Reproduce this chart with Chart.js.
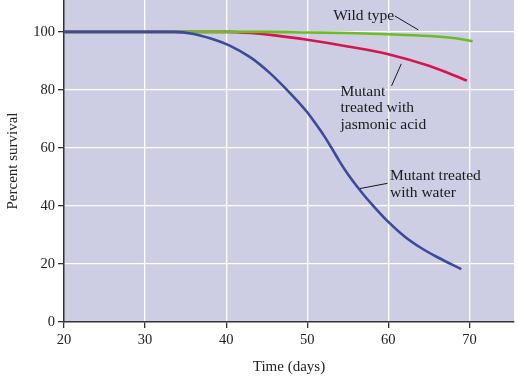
<!DOCTYPE html>
<html lang="en">
<head>
    <meta charset="UTF-8">
    <title>Percent survival</title>
    <script src="https://cdn.jsdelivr.net/npm/chart.js"></script>
    <style>
        html, body { margin: 0; padding: 0; background: #fff; }
        #wrap { width: 518px; height: 380px; }
    </style>
</head>
<body>
    <div id="wrap"><canvas id="survivalChart"></canvas></div>

    <script>
        // values
        const xTicks = [20, 30, 40, 50, 60, 70];
        const yTicks = [0, 20, 40, 60, 80, 100];

        const wildDays = [20, 30, 40, 45, 50, 55, 60, 65, 68, 70.4];
        const wildVals = [100, 100, 100, 100, 99.8, 99.6, 99.2, 98.6, 97.9, 96.8];

        const jasDays = [20, 30, 40, 43, 46, 50, 55, 60, 65, 69.7];
        const jasVals = [100, 100, 100, 99.6, 98.8, 97.3, 95, 92.3, 88.3, 83.2];

        const waterDays = [20, 30, 33.5, 36, 38, 40.5, 43, 45.4, 47.5, 50, 51, 52, 53, 54, 55, 56, 57, 58, 60, 62, 64, 66, 69];
        const waterVals = [100, 100, 100, 99.3, 97.8, 95.2, 91.2, 85.8, 80, 72.3, 68.5, 64.5, 60, 55.3, 51, 47.2, 43.7, 40.5, 34.5, 29.5, 25.6, 22.4, 18.2];

        const serif = "'Liberation Serif', 'DejaVu Serif', serif";

        function toPoints(xs, ys) {
            return xs.map((x, i) => ({ x: x, y: ys[i] }));
        }

        // callouts, placed in data units
        const notes = [
            { lines: ["Wild type"], x: 53.2, y: 104.1, from: [60.8, 105.5], to: [63.7, 100.7] },
            { lines: ["Mutant", "treated with", "jasmonic acid"], x: 54.1, y: 78.0, from: [60.4, 81.4], to: [61.6, 89.0] },
            { lines: ["Mutant treated", "with water"], x: 60.2, y: 48.8, from: [56.5, 46.0], to: [59.9, 47.8] }
        ];

        const plotBg = {
            id: "plotBg",
            beforeDraw(chart) {
                const a = chart.chartArea;
                const ctx = chart.ctx;
                ctx.save();
                ctx.fillStyle = "#cdcde3";
                ctx.fillRect(a.left, a.top, a.right - a.left, a.bottom - a.top);
                ctx.restore();
            }
        };

        const callouts = {
            id: "callouts",
            afterDatasetsDraw(chart) {
                const ctx = chart.ctx;
                const xs = chart.scales.x, ys = chart.scales.y;
                ctx.save();
                ctx.font = "15.5px " + serif;
                ctx.fillStyle = "#1a1a1a";
                ctx.strokeStyle = "#1a1a1a";
                ctx.lineWidth = 1;
                notes.forEach(n => {
                    const left = xs.getPixelForValue(n.x);
                    const base = ys.getPixelForValue(n.y);
                    n.lines.forEach((t, i) => ctx.fillText(t, left, base + i * 16.5));
                    ctx.beginPath();
                    ctx.moveTo(xs.getPixelForValue(n.from[0]), ys.getPixelForValue(n.from[1]));
                    ctx.lineTo(xs.getPixelForValue(n.to[0]), ys.getPixelForValue(n.to[1]));
                    ctx.stroke();
                });
                ctx.restore();
            }
        };

        const lineStyle = {
            pointRadius: 0,
            borderWidth: 2.6,
            cubicInterpolationMode: "monotone",
            fill: false
        };

        new Chart(document.getElementById("survivalChart"), {
            type: "line",
            data: {
                datasets: [
                    Object.assign({ label: "Mutant treated with water", data: toPoints(waterDays, waterVals), borderColor: "#3a4b9c" }, lineStyle),
                    Object.assign({ label: "Wild type", data: toPoints(wildDays, wildVals), borderColor: "#6bbd20" }, lineStyle),
                    Object.assign({ label: "Mutant treated with jasmonic acid", data: toPoints(jasDays, jasVals), borderColor: "#d5154c" }, lineStyle)
                ]
            },
            options: {
                responsive: true,
                maintainAspectRatio: false,
                animation: false,
                layout: { padding: { top: 0, right: 4, left: 0, bottom: 0 } },
                plugins: {
                    legend: { display: false },
                    tooltip: { enabled: false }
                },
                scales: {
                    x: {
                        type: "linear",
                        min: 20,
                        max: 75.5,
                        afterBuildTicks: s => { s.ticks = xTicks.map(v => ({ value: v })); },
                        afterFit: s => { s.height = 58; },
                        ticks: { color: "#222", font: { family: serif, size: 14.5 }, padding: 3, maxRotation: 0 },
                        grid: { color: ctx => ctx.tick && ctx.tick.value === 20 ? "rgba(0,0,0,0)" : "#ffffff", lineWidth: 1.3, tickColor: "#333", tickLength: 6 },
                        border: { display: true, color: "#333", width: 1.5 },
                        title: { display: true, text: "Time (days)", color: "#222", font: { family: serif, size: 15 }, padding: { top: 0, bottom: 4 } }
                    },
                    y: {
                        min: 0,
                        max: 111,
                        afterBuildTicks: s => { s.ticks = yTicks.map(v => ({ value: v })); },
                        afterFit: s => { s.width = 64; s.paddingTop = 0; },
                        ticks: { color: "#222", font: { family: serif, size: 14.5 }, padding: 3 },
                        grid: { color: ctx => ctx.tick && ctx.tick.value === 0 ? "rgba(0,0,0,0)" : "#ffffff", lineWidth: 1.3, tickColor: "#333", tickLength: 6 },
                        border: { display: true, color: "#333", width: 1.5 },
                        title: { display: true, text: "Percent survival", color: "#222", font: { family: serif, size: 15 }, padding: { bottom: 4 } }
                    }
                }
            },
            plugins: [plotBg, callouts]
        });
    </script>
</body>
</html>
